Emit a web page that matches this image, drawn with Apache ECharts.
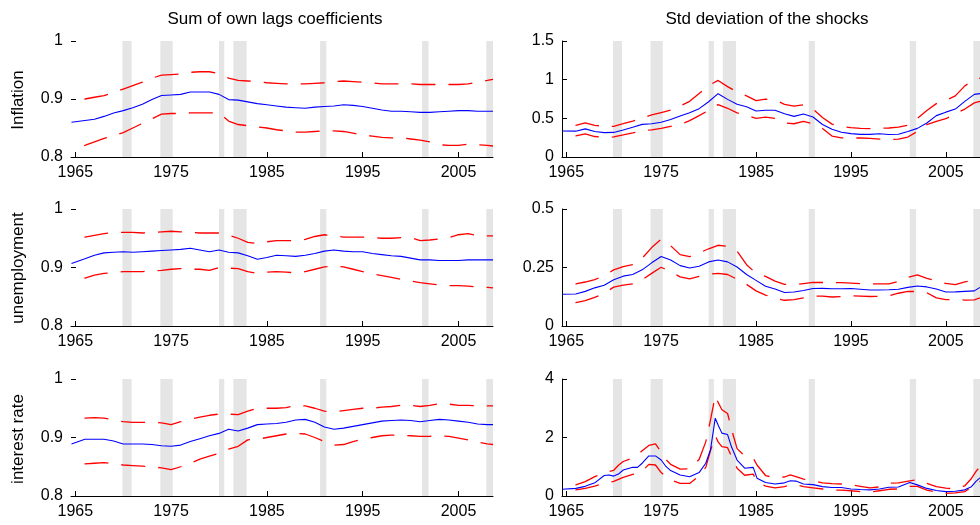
<!DOCTYPE html>
<html><head><meta charset="utf-8">
<script src="https://cdn.jsdelivr.net/npm/echarts@6/dist/echarts.min.js"></script>
<style>html,body{margin:0;padding:0;background:#fff}#c{width:980px;height:525px}</style>
</head><body><div id="c"></div>
<script>
// ---------- data ----------
const colTitles = ['Sum of own lags coefficients', 'Std deviation of the shocks'];
const rowTitles = ['Inflation', 'unemployment', 'interest rate'];
const xTicks = [1965, 1975, 1985, 1995, 2005];
const recessions = [[1969.92,1970.88],[1973.88,1975.17],[1980.0,1980.55],[1981.5,1982.88],[1990.55,1991.2],[2001.2,2001.87],[2007.9,2009.5]];

const yearsA = [1964.6,1966,1967,1968,1969,1970,1971,1972,1973,1974,1975,1976,1977,1978,1979,1980,1981,1982,1983,1984,1985,1986,1987,1988,1989,1990,1991,1992,1993,1994,1995,1996,1997,1998,1999,2000,2001,2002,2003,2004,2005,2006,2007,2008,2008.6];

const inflSumMed = [0.860,0.863,0.865,0.870,0.876,0.880,0.885,0.891,0.899,0.906,0.907,0.908,0.912,0.912,0.912,0.908,0.899,0.898,0.895,0.892,0.890,0.888,0.886,0.885,0.884,0.886,0.887,0.888,0.890,0.889,0.887,0.884,0.881,0.879,0.879,0.878,0.877,0.877,0.878,0.879,0.880,0.880,0.879,0.879,0.879];
const inflSumUp = [0.897,0.900,0.903,0.906,0.911,0.917,0.923,0.929,0.936,0.941,0.942,0.943,0.946,0.947,0.947,0.944,0.936,0.932,0.931,0.930,0.928,0.927,0.926,0.926,0.926,0.927,0.928,0.930,0.931,0.930,0.929,0.928,0.926,0.926,0.926,0.926,0.925,0.925,0.925,0.925,0.925,0.926,0.929,0.932,0.934];
const inflSumLo = [0.815,0.820,0.826,0.832,0.837,0.842,0.850,0.858,0.866,0.874,0.875,0.875,0.876,0.876,0.876,0.876,0.862,0.856,0.854,0.852,0.850,0.847,0.845,0.843,0.843,0.844,0.845,0.845,0.844,0.841,0.838,0.836,0.834,0.833,0.833,0.831,0.829,0.826,0.821,0.820,0.820,0.822,0.821,0.820,0.819];

const unSumMed = [0.907,0.915,0.921,0.925,0.926,0.927,0.926,0.927,0.928,0.929,0.930,0.931,0.933,0.930,0.927,0.930,0.926,0.925,0.920,0.914,0.917,0.921,0.920,0.919,0.921,0.924,0.928,0.930,0.928,0.927,0.927,0.924,0.922,0.920,0.919,0.916,0.913,0.913,0.912,0.912,0.912,0.913,0.913,0.913,0.913];
const unSumUp = [0.950,0.952,0.955,0.958,0.960,0.960,0.960,0.959,0.960,0.961,0.962,0.961,0.960,0.959,0.959,0.959,0.955,0.950,0.943,0.941,0.944,0.946,0.946,0.946,0.948,0.953,0.956,0.954,0.952,0.952,0.952,0.951,0.950,0.950,0.951,0.951,0.946,0.947,0.949,0.951,0.956,0.958,0.954,0.954,0.954];
const unSumLo = [0.878,0.882,0.887,0.890,0.891,0.893,0.893,0.893,0.894,0.895,0.897,0.898,0.897,0.897,0.895,0.900,0.899,0.898,0.893,0.890,0.892,0.893,0.892,0.891,0.893,0.897,0.901,0.903,0.901,0.897,0.893,0.889,0.886,0.883,0.880,0.877,0.874,0.872,0.870,0.869,0.869,0.868,0.867,0.866,0.865];

const irSumMed = [0.889,0.897,0.897,0.897,0.894,0.889,0.889,0.889,0.888,0.886,0.885,0.887,0.893,0.898,0.903,0.907,0.914,0.911,0.916,0.922,0.923,0.924,0.926,0.930,0.931,0.926,0.918,0.914,0.916,0.919,0.922,0.925,0.928,0.929,0.930,0.929,0.927,0.929,0.931,0.930,0.928,0.926,0.923,0.922,0.922];
const irSumUp = [0.932,0.933,0.934,0.933,0.930,0.927,0.926,0.926,0.926,0.925,0.922,0.927,0.931,0.935,0.938,0.940,0.940,0.939,0.945,0.950,0.950,0.950,0.951,0.955,0.954,0.950,0.945,0.944,0.946,0.948,0.950,0.950,0.952,0.953,0.955,0.955,0.953,0.955,0.958,0.957,0.955,0.955,0.954,0.954,0.954];
const irSumLo = [0.854,0.855,0.856,0.857,0.855,0.853,0.852,0.851,0.850,0.848,0.845,0.850,0.856,0.863,0.868,0.873,0.880,0.885,0.896,0.897,0.900,0.903,0.906,0.907,0.906,0.900,0.893,0.887,0.888,0.893,0.897,0.900,0.903,0.904,0.904,0.903,0.902,0.902,0.903,0.902,0.899,0.896,0.892,0.889,0.888];

const inflSdMed = [0.336,0.334,0.364,0.330,0.315,0.318,0.350,0.385,0.422,0.430,0.450,0.485,0.530,0.572,0.625,0.715,0.819,0.745,0.681,0.650,0.595,0.605,0.605,0.560,0.525,0.555,0.517,0.420,0.360,0.320,0.302,0.292,0.293,0.300,0.290,0.295,0.330,0.370,0.440,0.535,0.580,0.620,0.720,0.810,0.820];
const inflSdUp = [0.405,0.409,0.440,0.410,0.397,0.397,0.430,0.465,0.505,0.545,0.575,0.605,0.660,0.720,0.820,0.925,0.990,0.910,0.840,0.790,0.730,0.748,0.740,0.680,0.658,0.675,0.620,0.510,0.425,0.395,0.380,0.370,0.366,0.372,0.375,0.385,0.412,0.500,0.600,0.690,0.730,0.790,0.920,1.000,1.020];
const inflSdLo = [0.270,0.272,0.300,0.265,0.255,0.259,0.285,0.312,0.340,0.350,0.370,0.395,0.420,0.470,0.535,0.603,0.677,0.630,0.570,0.540,0.500,0.515,0.500,0.440,0.430,0.460,0.430,0.370,0.270,0.248,0.246,0.246,0.240,0.232,0.225,0.230,0.258,0.330,0.420,0.460,0.495,0.560,0.620,0.700,0.720];

const unSdMed = [0.136,0.137,0.148,0.163,0.174,0.198,0.213,0.220,0.240,0.270,0.297,0.282,0.258,0.248,0.255,0.274,0.282,0.274,0.252,0.220,0.195,0.170,0.158,0.143,0.145,0.152,0.160,0.161,0.159,0.159,0.160,0.157,0.154,0.154,0.155,0.157,0.165,0.171,0.167,0.158,0.145,0.146,0.148,0.150,0.165];
const unSdUp = [0.178,0.180,0.188,0.198,0.215,0.240,0.254,0.262,0.290,0.335,0.371,0.343,0.305,0.296,0.312,0.330,0.345,0.340,0.320,0.262,0.225,0.212,0.192,0.178,0.176,0.181,0.186,0.186,0.186,0.185,0.183,0.181,0.180,0.180,0.180,0.190,0.208,0.218,0.204,0.192,0.182,0.177,0.189,0.195,0.205];
const unSdLo = [0.098,0.100,0.108,0.122,0.140,0.166,0.175,0.180,0.198,0.225,0.251,0.232,0.210,0.201,0.212,0.221,0.225,0.220,0.200,0.178,0.150,0.132,0.119,0.110,0.113,0.120,0.127,0.128,0.124,0.126,0.129,0.128,0.126,0.127,0.129,0.140,0.148,0.147,0.142,0.120,0.113,0.113,0.111,0.112,0.120];

const yearsR = [1964.6,1966,1967,1968,1969,1969.5,1970,1970.5,1971,1972,1972.5,1973,1973.7,1974.4,1975,1975.5,1976,1977,1978,1979,1979.7,1980.2,1980.7,1981,1981.4,1982,1982.4,1983,1983.8,1984.7,1985.1,1986,1987,1988,1988.6,1989.2,1990,1991,1992,1993,1994,1995,1996,1997,1998,1999,2000,2001.2,2002,2003,2004,2005,2006,2007,2007.7,2008.2,2008.6];
const irSdMed = [0.23,0.26,0.33,0.45,0.70,0.72,0.68,0.75,0.89,0.98,0.98,1.12,1.37,1.37,1.23,1.01,0.87,0.72,0.66,0.80,1.12,1.58,2.66,2.43,2.15,2.10,1.69,1.23,0.95,0.98,0.61,0.46,0.41,0.45,0.52,0.51,0.41,0.39,0.32,0.29,0.29,0.24,0.22,0.21,0.24,0.30,0.31,0.46,0.38,0.26,0.19,0.15,0.16,0.21,0.32,0.51,0.62];
const irSdUp = [0.33,0.38,0.49,0.66,0.80,0.84,0.88,1.05,1.18,1.30,1.40,1.55,1.73,1.78,1.50,1.25,1.08,0.92,0.93,1.25,1.85,2.60,3.43,3.20,2.95,2.82,2.30,1.62,1.37,1.29,1.06,0.70,0.62,0.65,0.72,0.66,0.58,0.52,0.45,0.42,0.41,0.38,0.33,0.28,0.31,0.44,0.45,0.52,0.56,0.43,0.32,0.27,0.24,0.35,0.60,0.85,1.00];
const irSdLo = [0.16,0.21,0.26,0.34,0.44,0.47,0.50,0.57,0.64,0.74,0.76,0.85,1.08,1.06,0.80,0.66,0.55,0.43,0.43,0.68,0.98,1.55,2.06,1.85,1.69,1.65,1.36,0.95,0.71,0.75,0.48,0.34,0.28,0.32,0.38,0.38,0.32,0.28,0.24,0.20,0.20,0.18,0.15,0.13,0.18,0.23,0.24,0.33,0.33,0.20,0.13,0.09,0.11,0.15,0.30,0.42,0.50];

// ---------- chart ----------
const X_MIN = 1964.55, X_MAX = 2008.6;
const FONT = '"Liberation Sans", Arial, Helvetica, sans-serif';
const panels = [
  {years: yearsA, med: inflSumMed, up: inflSumUp, lo: inflSumLo, ymin: 0.8, ymax: 1, step: 0.1, yLine: false},
  {years: yearsA, med: inflSdMed,  up: inflSdUp,  lo: inflSdLo,  ymin: 0,   ymax: 1.5, step: 0.5, yLine: true},
  {years: yearsA, med: unSumMed,   up: unSumUp,   lo: unSumLo,   ymin: 0.8, ymax: 1, step: 0.1, yLine: false},
  {years: yearsA, med: unSdMed,    up: unSdUp,    lo: unSdLo,    ymin: 0,   ymax: 0.5, step: 0.25, yLine: true},
  {years: yearsA, med: irSumMed,   up: irSumUp,   lo: irSumLo,   ymin: 0.8, ymax: 1, step: 0.1, yLine: false},
  {years: yearsR, med: irSdMed,    up: irSdUp,    lo: irSdLo,    ymin: 0,   ymax: 4, step: 2, yLine: true}
];
const gridBoxes = [
  {left: 71, top: 41, width: 422, height: 116},
  {left: 562, top: 41, width: 421, height: 116},
  {left: 71, top: 209, width: 422, height: 117},
  {left: 562, top: 209, width: 421, height: 117},
  {left: 71, top: 379, width: 422, height: 117},
  {left: 562, top: 379, width: 421, height: 117}
];
const zip = (xs, ys) => xs.map((x, i) => [x, ys[i]]);
const labelStyle = {color: '#000', fontSize: 16, fontFamily: FONT};

const grid = [], xAxis = [], yAxis = [], series = [];
panels.forEach((p, i) => {
  grid.push(Object.assign({containLabel: false}, gridBoxes[i]));
  xAxis.push({
    gridIndex: i, type: 'value', min: X_MIN, max: X_MAX,
    axisLine: {show: true, lineStyle: {color: '#000', width: 1}},
    axisTick: {show: true, inside: true, length: 5, customValues: xTicks, lineStyle: {color: '#000'}},
    axisLabel: Object.assign({customValues: xTicks, margin: 8, formatter: v => String(v)}, labelStyle),
    splitLine: {show: false}
  });
  yAxis.push({
    gridIndex: i, type: 'value', min: p.ymin, max: p.ymax, interval: p.step,
    axisLine: {show: p.yLine, lineStyle: {color: '#000', width: 1}},
    axisTick: {show: true, inside: true, length: 5, lineStyle: {color: '#000'}},
    axisLabel: Object.assign({margin: 8}, labelStyle),
    splitLine: {show: false}
  });
  const redStyle = {color: '#ff0000', width: 1.3, type: [24, 13], dashOffset: 24};
  series.push({
    type: 'line', xAxisIndex: i, yAxisIndex: i, data: zip(p.years, p.up),
    symbol: 'none', lineStyle: redStyle, z: 3,
    markArea: {
      silent: true, itemStyle: {color: '#e5e5e5'},
      data: recessions.map(r => [{xAxis: r[0], yAxis: p.ymin}, {xAxis: Math.min(r[1], X_MAX), yAxis: p.ymax}])
    }
  });
  series.push({type: 'line', xAxisIndex: i, yAxisIndex: i, data: zip(p.years, p.lo), symbol: 'none', lineStyle: redStyle, z: 3});
  series.push({type: 'line', xAxisIndex: i, yAxisIndex: i, data: zip(p.years, p.med), symbol: 'none', lineStyle: {color: '#0000ff', width: 1.1}, z: 4});
});

const TFONT = '17px ' + FONT;
const graphic = [
  {type: 'text', x: 275, y: 19, style: {text: colTitles[0], font: TFONT, fill: '#000', align: 'center', verticalAlign: 'middle'}},
  {type: 'text', x: 767, y: 19, style: {text: colTitles[1], font: TFONT, fill: '#000', align: 'center', verticalAlign: 'middle'}},
  {type: 'text', x: 18, y: 100, rotation: Math.PI / 2, style: {text: rowTitles[0], font: TFONT, fill: '#000', align: 'center', verticalAlign: 'middle'}},
  {type: 'text', x: 18, y: 268, rotation: Math.PI / 2, style: {text: rowTitles[1], font: TFONT, fill: '#000', align: 'center', verticalAlign: 'middle'}},
  {type: 'text', x: 18, y: 439, rotation: Math.PI / 2, style: {text: rowTitles[2], font: TFONT, fill: '#000', align: 'center', verticalAlign: 'middle'}}
];

const chart = echarts.init(document.getElementById('c'), null, {renderer: 'canvas'});
chart.setOption({
  animation: false,
  backgroundColor: '#fff',
  textStyle: {fontFamily: FONT},
  grid, xAxis, yAxis, series, graphic
});
</script>
</body></html>
